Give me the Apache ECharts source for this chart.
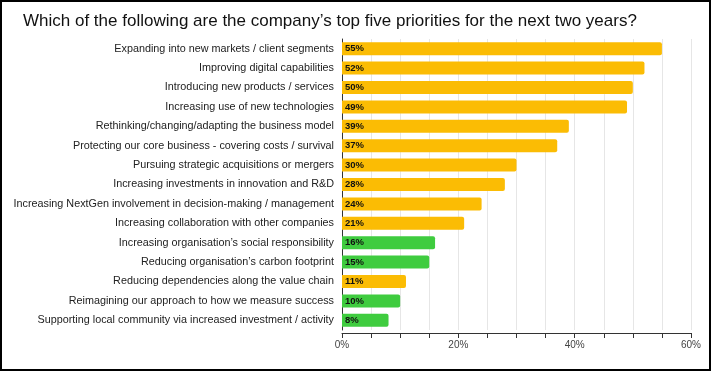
<!DOCTYPE html>
<html><head><meta charset="utf-8">
<script src="https://cdn.jsdelivr.net/npm/echarts@6/dist/echarts.min.js"></script>
<style>
html,body{margin:0;padding:0;background:#fff;}
#wrap{width:711px;height:371px;box-sizing:border-box;border:2px solid #000;position:relative;overflow:hidden;}
#c{position:absolute;left:-2px;top:-2px;width:711px;height:371px;}
</style></head>
<body><div id="wrap"><div id="c"></div></div>
<script>
const titleText = "Which of the following are the company\u2019s top five priorities for the next two years?";
const categories = [
  "Expanding into new markets / client segments",
  "Improving digital capabilities",
  "Introducing new products / services",
  "Increasing use of new technologies",
  "Rethinking/changing/adapting the business model",
  "Protecting our core business - covering costs / survival",
  "Pursuing strategic acquisitions or mergers",
  "Increasing investments in innovation and R&D",
  "Increasing NextGen involvement in decision-making / management",
  "Increasing collaboration with other companies",
  "Increasing organisation\u2019s social responsibility",
  "Reducing organisation\u2019s carbon footprint",
  "Reducing dependencies along the value chain",
  "Reimagining our approach to how we measure success",
  "Supporting local community via increased investment / activity"
];
const values = [55, 52, 50, 49, 39, 37, 30, 28, 24, 21, 16, 15, 11, 10, 8];
const groups = ["business","business","business","business","business","business","business","business","business","business","sustainability","sustainability","business","sustainability","sustainability"];
const xTicks = [0, 20, 40, 60];

const groupColor = {business: "#FBBC04", sustainability: "#3FCC3F"};

const chart = echarts.init(document.getElementById('c'), null, {renderer: 'canvas'});
chart.setOption({
  animation: false,
  title: {
    text: titleText, left: 18, top: 8,
    textStyle: {fontFamily: "Liberation Sans, Arial, sans-serif", fontSize: 17, fontWeight: 'normal', color: '#111'}
  },
  grid: {left: 342, right: 20, top: 39, bottom: 41, containLabel: false},
  xAxis: {
    type: 'value', min: 0, max: 60, interval: 5, offset: 3,
    axisLine: {show: true, lineStyle: {color: '#333', width: 1}},
    axisTick: {show: true, length: 5, lineStyle: {color: '#333'}},
    splitLine: {show: true, lineStyle: {color: '#e6e6e6', width: 1}},
    axisLabel: {
      fontFamily: "Liberation Sans, Arial, sans-serif", fontSize: 10, color: '#444', margin: 7,
      formatter: v => xTicks.includes(v) ? v + '%' : ''
    }
  },
  yAxis: {
    type: 'category', data: categories, inverse: true,
    axisLine: {show: true, lineStyle: {color: '#333', width: 1}},
    axisTick: {show: false},
    axisLabel: {fontFamily: "Liberation Sans, Arial, sans-serif", fontSize: 10.8, color: '#222', margin: 8}
  },
  series: [{
    type: 'bar', barWidth: 13,
    data: values.map((v, i) => ({value: v, itemStyle: {color: groupColor[groups[i]]}})),
    itemStyle: {borderRadius: [0, 2, 2, 0]},
    label: {
      show: true, position: 'insideLeft', distance: 3,
      formatter: p => p.value + '%',
      fontFamily: "Liberation Sans, Arial, sans-serif", fontSize: 9.5, fontWeight: 'bold', color: '#111'
    }
  }]
});
</script>
</body></html>
